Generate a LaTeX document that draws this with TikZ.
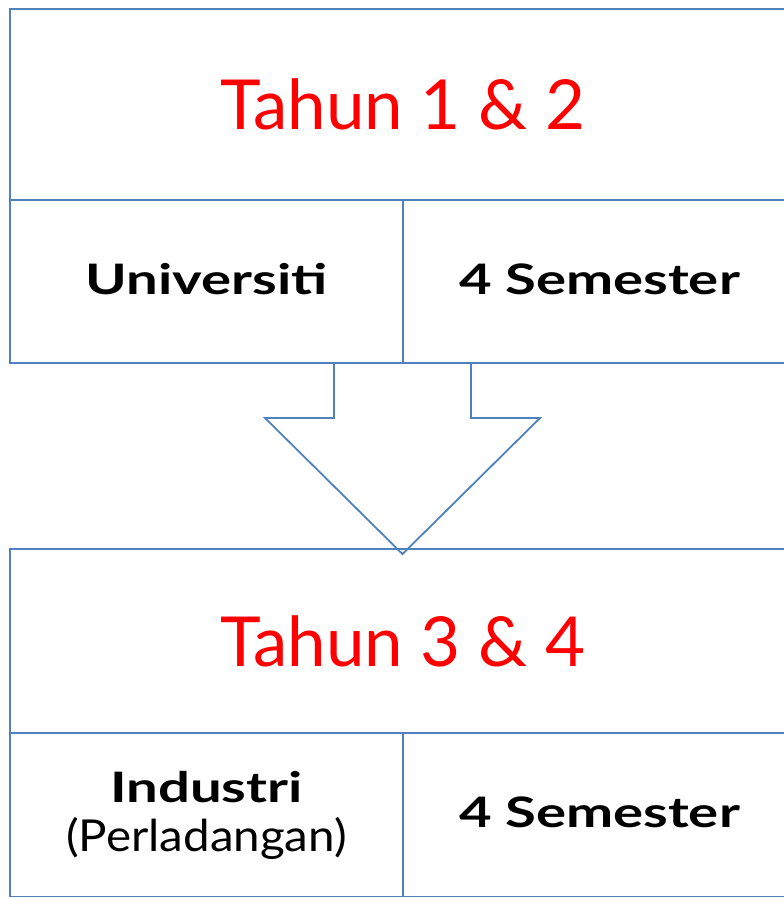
\documentclass[tikz,border=0pt]{standalone}
\usepackage{fontspec}
\setmainfont{Lato}
\newfontfamily\widelato[FakeStretch=1.34]{Lato}
\newfontfamily\midlato[FakeStretch=1.08]{Lato}
\usetikzlibrary{positioning}
\definecolor{boxblue}{RGB}{79,129,189}

\begin{document}
\begin{tikzpicture}[x=1pt, y=-1pt, line width=1.8pt,
	hdr/.style={draw=boxblue, rectangle, inner sep=0pt,
		minimum width=786pt, text=red, font=\fontsize{69}{80}\selectfont},
	cell/.style={draw=boxblue, rectangle, inner sep=0pt, align=center,
		minimum width=393pt, minimum height=163pt,
		font=\widelato\fontsize{42}{49}\selectfont\bfseries}]
	\useasboundingbox (0,0) rectangle (784,898);
	\clip (0,0) rectangle (784,898);
	\node [hdr, minimum height=191pt] (tahun1) at (403,104.5) {Tahun 1 \& 2};
	\node [cell] (uni) at (206.5,281.5) {\raisebox{5pt}{Universiti}};
	\node [cell] (sem1) at (599.5,281.5) {\raisebox{5pt}{4 Semester}};
	\node [hdr, minimum height=184pt] (tahun2) at (403,641) {Tahun 3 \& 4};
	\node [cell] (ind) at (206.5,815) {Industri\\{\midlato\fontsize{44}{49}\selectfont
		\mdseries (Perladangan)}};
	\node [cell] (sem2) at (599.5,815) {\raisebox{5pt}{4 Semester}};
	% block arrow
	\draw [boxblue, line join=miter] (334,363)--(334,418)--(265,418)--(402.5,554)
		--(540,418)--(471,418)--(471,363);
\end{tikzpicture}
\end{document}
